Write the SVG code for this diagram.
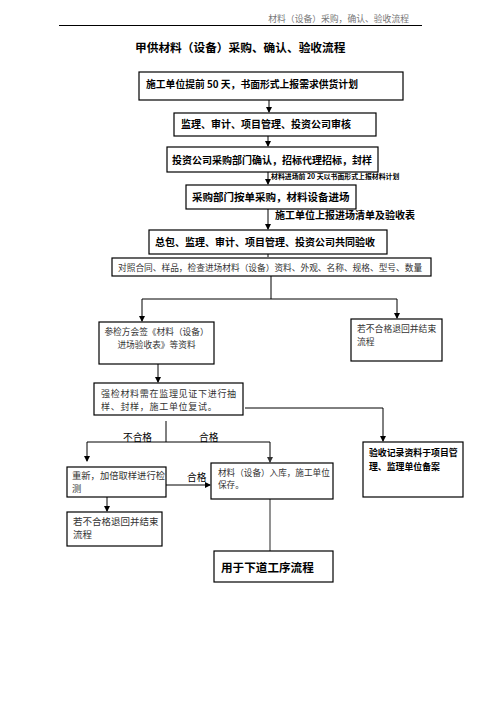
<svg xmlns="http://www.w3.org/2000/svg" width="496" height="702" viewBox="0 0 496 702">
<defs>
<marker id="ah" markerWidth="6" markerHeight="6" refX="5" refY="3" orient="auto" markerUnits="userSpaceOnUse">
<path d="M0,0 L6,3 L0,6 z" fill="#000"/>
</marker>
<marker id="ahg" markerWidth="6" markerHeight="6" refX="5" refY="3" orient="auto" markerUnits="userSpaceOnUse">
<path d="M0,0 L6,3 L0,6 z" fill="#333"/>
</marker>
<style>
.box{fill:#fff;stroke:#000;stroke-width:1.2}
.t{font-family:"Noto Sans CJK SC","Noto Sans",sans-serif;fill:#000}
.b{font-weight:bold}
.r{font-weight:normal;fill:#333}
.ln{fill:none;stroke:#000;stroke-width:1}
.lg{fill:none;stroke:#777;stroke-width:1.6}
</style>
</defs>
<rect width="496" height="702" fill="#fff"/>
<g id="header">
<text class="t" x="409" y="21.5" font-size="8.8" text-anchor="end" style="fill:#777">材料（设备）采购，确认、验收流程</text>
<line x1="59" y1="25.5" x2="422" y2="25.5" stroke="#000" stroke-width="1"/>
<text class="t b" x="135" y="52" font-size="11.7">甲供材料（设备）采购、确认、验收流程</text>
</g>
<g id="connectors">
<line class="ln" x1="269" y1="100" x2="269" y2="112" marker-end="url(#ah)"/>
<line class="ln" x1="268" y1="136" x2="268" y2="146" marker-end="url(#ah)"/>
<line class="ln" x1="268" y1="172" x2="268" y2="184" marker-end="url(#ah)"/>
<line class="ln" x1="268" y1="209" x2="268" y2="229" marker-end="url(#ah)"/>
<line class="ln" x1="268" y1="254" x2="268" y2="257" />
<line class="ln" x1="271" y1="276" x2="271" y2="299"/>
<line class="ln" x1="142" y1="299" x2="397" y2="299"/>
<line class="ln" x1="142" y1="299" x2="142" y2="321" marker-end="url(#ah)"/>
<line class="ln" x1="397" y1="299" x2="397" y2="318" marker-end="url(#ah)"/>
<line class="ln" x1="158" y1="364" x2="158" y2="382" marker-end="url(#ah)"/>
<polyline class="ln" points="245,408 383,408 383,441" marker-end="url(#ah)"/>
<line class="ln" x1="166" y1="421" x2="166" y2="442"/>
<line class="ln" x1="87" y1="442" x2="270" y2="442"/>
<line class="ln" x1="87" y1="442" x2="87" y2="461" marker-end="url(#ah)"/>
<line class="ln" x1="270" y1="442" x2="270" y2="462" stroke="#555" marker-end="url(#ahg)"/>
<line class="ln" x1="166" y1="485" x2="210" y2="485" marker-end="url(#ah)"/>
<line class="ln" x1="107" y1="497" x2="107" y2="511" marker-end="url(#ah)"/>
<line class="lg" x1="270" y1="499" x2="270" y2="551"/>
<text class="t" x="123" y="441" font-size="9.7">不合格</text>
<text class="t" x="199" y="441" font-size="9.7">合格</text>
<text class="t" x="187" y="481" font-size="9.7">合格</text>
<text class="t b" x="271" y="178.5" font-size="6.9">材料进场前 20 天以书面形式上报材料计划</text>
<text class="t b" x="275" y="219" font-size="10">施工单位上报进场清单及验收表</text>
</g>
<g id="n1"><rect class="box" x="139" y="72" width="264" height="28"/><text class="t b" x="146" y="88" font-size="9.8">施工单位提前 50 天，书面形式上报需求供货计划</text></g>
<g id="n2"><rect class="box" x="174" y="113" width="202" height="23"/><text class="t b" x="181" y="128" font-size="10">监理、审计、项目管理、投资公司审核</text></g>
<g id="n3"><rect class="box" x="167" y="147" width="211" height="25"/><text class="t b" x="172" y="164" font-size="10">投资公司采购部门确认，招标代理招标，封样</text></g>
<g id="n4"><rect class="box" x="186" y="185" width="170" height="24"/><text class="t b" x="192" y="201" font-size="10.5">采购部门按单采购，材料设备进场</text></g>
<g id="n5"><rect class="box" x="149" y="230" width="238" height="24"/><text class="t b" x="155" y="246" font-size="10">总包、监理、审计、项目管理、投资公司共同验收</text></g>
<g id="n6"><rect class="box" x="112" y="258" width="319" height="18"/><text class="t r" x="118" y="270.5" font-size="8.7">对照合同、样品，检查进场材料（设备）资料、外观、名称、规格、型号、数量</text></g>
<g id="n7"><rect class="box" x="99" y="322" width="115" height="42"/><text class="t r" x="156.5" y="335" font-size="8.7" text-anchor="middle">参检方会签《材料（设备）</text><text class="t r" x="156.5" y="348" font-size="8.7" text-anchor="middle">进场验收表》等资料</text></g>
<g id="n8"><rect class="box" x="351" y="319" width="91" height="42"/><text class="t r" x="357" y="332" font-size="8.8">若不合格退回并结束</text><text class="t r" x="357" y="345" font-size="8.8">流程</text></g>
<g id="n9"><rect class="box" x="94" y="383" width="149" height="32"/><text class="t r" x="101" y="397" font-size="9" letter-spacing="0.7">强检材料需在监理见证下进行抽</text><text class="t r" x="101" y="410" font-size="9" letter-spacing="0.7">样、封样，施工单位复试。</text></g>
<g id="n10"><rect class="box" x="363" y="442" width="100" height="55"/><text class="t b" x="369" y="456" font-size="8.9">验收记录资料于项目管</text><text class="t b" x="369" y="470" font-size="8.9">理、监理单位备案</text></g>
<g id="n11"><rect class="box" x="67" y="467" width="99" height="30"/><text class="t r" x="72" y="479" font-size="9.3">重新，加倍取样进行检</text><text class="t r" x="72" y="492" font-size="9.3">测</text></g>
<g id="n12"><rect class="box" x="211" y="463" width="122" height="36"/><text class="t r" x="218" y="476" font-size="8.6">材料（设备）入库，施工单位</text><text class="t r" x="218" y="488" font-size="8.6">保存。</text></g>
<g id="n13"><rect class="box" x="67" y="512" width="95" height="34"/><text class="t r" x="73" y="525" font-size="9.5">若不合格退回并结束</text><text class="t r" x="73" y="538" font-size="9.5">流程</text></g>
<g id="n14"><rect class="box" x="214" y="551" width="119" height="31"/><text class="t b" x="221" y="571.5" font-size="11.6">用于下道工序流程</text></g>
</svg>
